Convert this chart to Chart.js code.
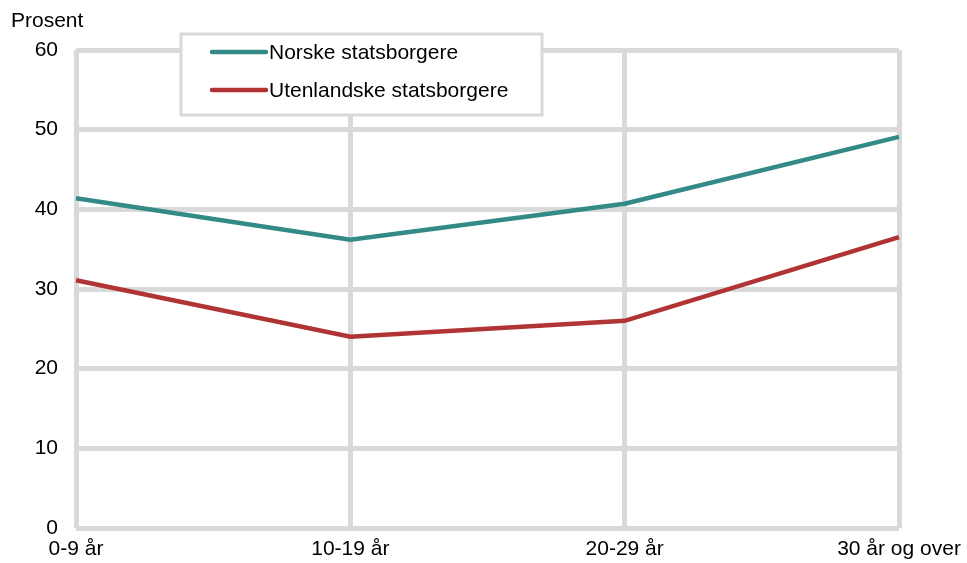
<!DOCTYPE html>
<html lang="no">
  <head>
    <meta charset="UTF-8" />
    <title>Prosent etter alder</title>
    <script src="https://cdn.jsdelivr.net/npm/chart.js"></script>
    <style>
      html, body { margin: 0; padding: 0; background: #fff; }
    </style>
  </head>
  <body>
    <canvas id="chart" width="967" height="563"></canvas>
    <script>
      // data lest av figuren
      const categories = ["0-9 år", "10-19 år", "20-29 år", "30 år og over"];
      const norske = [41.4, 36.2, 40.7, 49.1];
      const utenlandske = [31.1, 24.0, 26.0, 36.5];
      const yTicks = [0, 10, 20, 30, 40, 50, 60];

      const gridColor = "#d9d9d9";
      const fontFamily = "'Liberation Sans', Arial, sans-serif";
      const fontSize = 21;

      // egen legend-boks + "Prosent"-tekst
      const extras = {
        id: "extras",
        afterDraw(chart) {
          const ctx = chart.ctx;
          ctx.save();
          ctx.font = fontSize + "px " + fontFamily;
          ctx.fillStyle = "#000";
          ctx.textBaseline = "middle";
          ctx.textAlign = "left";
          ctx.fillText("Prosent", 11, 21);

          // legend
          const bx = 181, by = 34, bw = 361, bh = 81;
          ctx.fillStyle = "#fff";
          ctx.fillRect(bx, by, bw, bh);
          ctx.strokeStyle = gridColor;
          ctx.lineWidth = 3;
          ctx.strokeRect(bx, by, bw, bh);
          chart.data.datasets.forEach((ds, i) => {
            const y = 52 + i * 38;
            ctx.strokeStyle = ds.borderColor;
            ctx.lineWidth = 4.5;
            ctx.lineCap = "round";
            ctx.beginPath();
            ctx.moveTo(212, y);
            ctx.lineTo(266, y);
            ctx.stroke();
            ctx.fillStyle = "#000";
            ctx.fillText(ds.label, 269, y + 1);
          });
          ctx.restore();
        },
      };

      new Chart(document.getElementById("chart"), {
        type: "line",
        data: {
          labels: categories,
          datasets: [
            {
              label: "Norske statsborgere",
              data: norske,
              borderColor: "#338a86",
              borderWidth: 4.5,
              pointRadius: 0,
              tension: 0,
            },
            {
              label: "Utenlandske statsborgere",
              data: utenlandske,
              borderColor: "#b03434",
              borderWidth: 4.5,
              pointRadius: 0,
              tension: 0,
            },
          ],
        },
        options: {
          responsive: false,
          animation: false,
          events: [],
          layout: { padding: { top: 50, right: 68, left: 0, bottom: 0 } },
          plugins: {
            legend: { display: false },
            tooltip: { enabled: false },
          },
          scales: {
            x: {
              offset: false,
              grid: { color: gridColor, lineWidth: 5, drawTicks: false },
              border: { display: false },
              ticks: {
                color: "#000",
                font: { family: fontFamily, size: fontSize },
                padding: 9,
                maxRotation: 0,
                autoSkip: false,
              },
              afterFit(scale) {
                scale.height = 35;
                scale.paddingLeft = 0;
                scale.paddingRight = 0;
              },
            },
            y: {
              min: 0,
              max: 60,
              afterBuildTicks(scale) {
                scale.ticks = yTicks.map((v) => ({ value: v }));
              },
              grid: { color: gridColor, lineWidth: 5, drawTicks: false },
              border: { display: false },
              ticks: {
                color: "#000",
                font: { family: fontFamily, size: fontSize },
                padding: 18,
              },
              afterFit(scale) { scale.width = 76; },
            },
          },
        },
        plugins: [extras],
      });
    </script>
  </body>
</html>
